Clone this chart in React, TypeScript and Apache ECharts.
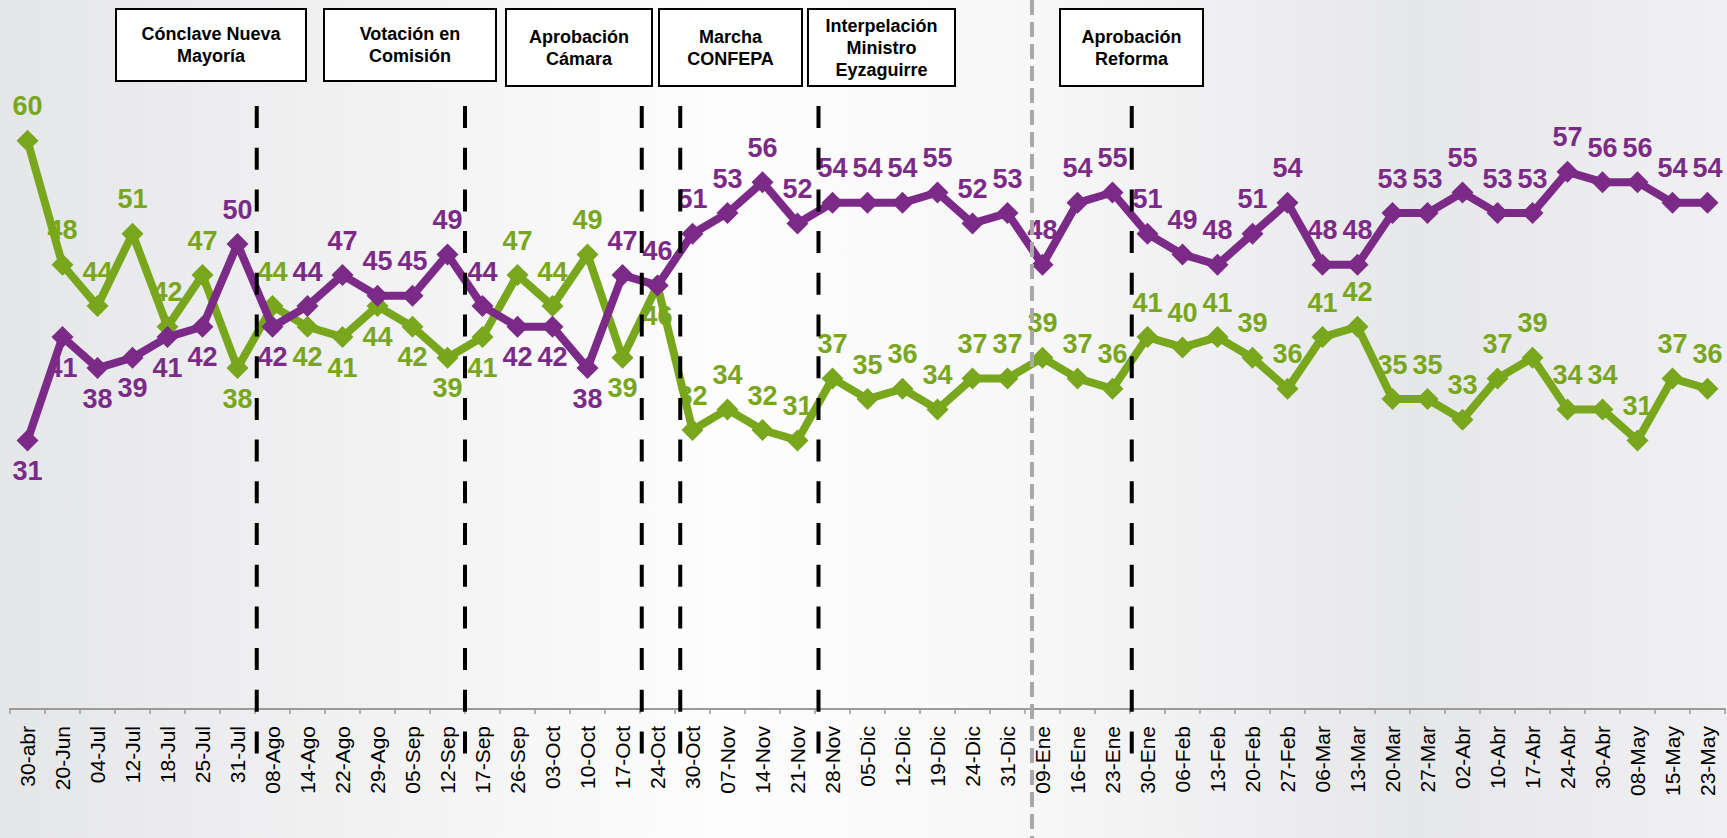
import React, { useEffect, useRef } from "react";
import * as echarts from "echarts";

const categories = [
  "30-abr", "20-Jun", "04-Jul", "12-Jul", "18-Jul", "25-Jul", "31-Jul", "08-Ago", "14-Ago", "22-Ago",
  "29-Ago", "05-Sep", "12-Sep", "17-Sep", "26-Sep", "03-Oct", "10-Oct", "17-Oct", "24-Oct", "30-Oct",
  "07-Nov", "14-Nov", "21-Nov", "28-Nov", "05-Dic", "12-Dic", "19-Dic", "24-Dic", "31-Dic", "09-Ene",
  "16-Ene", "23-Ene", "30-Ene", "06-Feb", "13-Feb", "20-Feb", "27-Feb", "06-Mar", "13-Mar", "20-Mar",
  "27-Mar", "02-Abr", "10-Abr", "17-Abr", "24-Abr", "30-Abr", "08-May", "15-May", "23-May",
];

const greenValues = [
  60, 48, 44, 51, 42, 47, 38, 44, 42, 41,
  44, 42, 39, 41, 47, 44, 49, 39, 46, 32,
  34, 32, 31, 37, 35, 36, 34, 37, 37, 39,
  37, 36, 41, 40, 41, 39, 36, 41, 42, 35,
  35, 33, 37, 39, 34, 34, 31, 37, 36,
];

const purpleValues = [
  31, 41, 38, 39, 41, 42, 50, 42, 44, 47,
  45, 45, 49, 44, 42, 42, 38, 47, 46, 51,
  53, 56, 52, 54, 54, 54, 55, 52, 53, 48,
  54, 55, 51, 49, 48, 51, 54, 48, 48, 53,
  53, 55, 53, 53, 57, 56, 56, 54, 54,
];

// indices whose value label sits below the point
const greenBelow = [6, 8, 9, 10, 11, 12, 13, 17, 18];
const purpleBelow = [0, 1, 2, 3, 4, 5, 7, 14, 15, 16];

// event separators, in category units (boundary before category n)
const eventLines = [7.05, 13, 18.05, 19.15, 23.1, 32.05];
const yearLine = 29.2;

const eventTexts = [
  "Cónclave Nueva\nMayoría",
  "Votación en\nComisión",
  "Aprobación\nCámara",
  "Marcha\nCONFEPA",
  "Interpelación\nMinistro\nEyzaguirre",
  "Aprobación\nReforma",
];
const eventBoxes = [
  { x: 116, y: 9, w: 190, h: 72 },
  { x: 324, y: 9, w: 172, h: 72 },
  { x: 506, y: 9, w: 146, h: 77 },
  { x: 659, y: 9, w: 143, h: 77 },
  { x: 808, y: 9, w: 147, h: 77 },
  { x: 1060, y: 9, w: 143, h: 77 },
];

const GREEN = "#78a61c";
const PURPLE = "#7b2b87";
const FONT = "'Liberation Sans', Arial, sans-serif";

function buildData(vals: number[], below: number[]) {
  return vals.map((v, i) =>
    below.includes(i)
      ? { value: v, label: { position: "bottom", distance: 6 } }
      : { value: v }
  );
}

function seriesOf(name: string, vals: number[], below: number[], color: string, z: number) {
  return {
    name,
    type: "line",
    data: buildData(vals, below),
    symbol: "diamond",
    symbolSize: 22,
    z,
    lineStyle: { width: 8, color },
    itemStyle: { color },
    label: {
      show: true,
      position: "top",
      distance: 10,
      color,
      fontSize: 27,
      fontWeight: "bold",
      fontFamily: FONT,
    },
  };
}

export default function App() {
  const ref = useRef<HTMLDivElement>(null);
  useEffect(() => {
    if (!ref.current) return;
    const chart = echarts.init(ref.current, null, { renderer: "svg" });
    chart.setOption({
      animation: false,
      backgroundColor: {
        type: "linear",
        x: 0,
        y: 0,
        x2: 1,
        y2: 0,
        colorStops: [
          { offset: 0, color: "#e5e6e8" },
          { offset: 0.42, color: "#fdfdfd" },
          { offset: 0.6, color: "#f7f7f8" },
          { offset: 0.82, color: "#e6e7e9" },
          { offset: 1, color: "#f0f0f2" },
        ],
      },
      grid: { left: 10, right: 2, top: 37.5, bottom: 129, containLabel: false },
      xAxis: {
        type: "category",
        data: categories,
        boundaryGap: true,
        axisLine: { show: true, lineStyle: { color: "#9a9a9a", width: 2 } },
        axisTick: { show: true, interval: 0, length: 5, lineStyle: { color: "#9a9a9a", width: 1.5 } },
        axisLabel: {
          interval: 0,
          rotate: 90,
          margin: 17,
          color: "#000",
          fontSize: 21,
          fontFamily: FONT,
        },
        splitLine: { show: false },
      },
      yAxis: {
        type: "value",
        min: 5,
        max: 70,
        show: false,
        splitLine: { show: false },
      },
      series: [
        seriesOf("Desaprueba", greenValues, greenBelow, GREEN, 2),
        seriesOf("Aprueba", purpleValues, purpleBelow, PURPLE, 3),
      ],
    });

    const p0 = chart.convertToPixel({ xAxisIndex: 0 }, categories[0]) as number;
    const p1 = chart.convertToPixel({ xAxisIndex: 0 }, categories[1]) as number;
    const step = p1 - p0;
    const bx = (b: number) => p0 + (b - 0.5) * step;

    const graphics: any[] = [];
    eventLines.forEach((b) => {
      const x = bx(b);
      graphics.push({
        type: "line",
        z: 100,
        shape: { x1: x, y1: 106, x2: x, y2: 758 },
        style: { stroke: "#000", lineWidth: 4, lineDash: [22, 19.7] },
      });
    });
    const gx = bx(yearLine);
    graphics.push({
      type: "line",
      z: 100,
      shape: { x1: gx, y1: 0, x2: gx, y2: 838 },
      style: { stroke: "#a8a8a8", lineWidth: 4, lineDash: [15, 7] },
    });
    eventBoxes.forEach((bxs, i) => {
      graphics.push({
        type: "rect",
        z: 101,
        shape: { x: bxs.x, y: bxs.y, width: bxs.w, height: bxs.h },
        style: { fill: "#ffffff", stroke: "#000", lineWidth: 2 },
      });
      graphics.push({
        type: "text",
        z: 102,
        x: bxs.x + bxs.w / 2,
        y: bxs.y + bxs.h / 2,
        style: {
          text: eventTexts[i],
          align: "center",
          verticalAlign: "middle",
          fontSize: 18,
          fontWeight: "bold",
          fontFamily: FONT,
          lineHeight: 22,
          fill: "#000",
        },
      });
    });
    chart.setOption({ graphic: graphics });

    return () => chart.dispose();
  }, []);
  return (
    <div
      ref={ref}
      style={{ position: "fixed", left: 0, top: 0, width: 1727, height: 838 }}
    />
  );
}
